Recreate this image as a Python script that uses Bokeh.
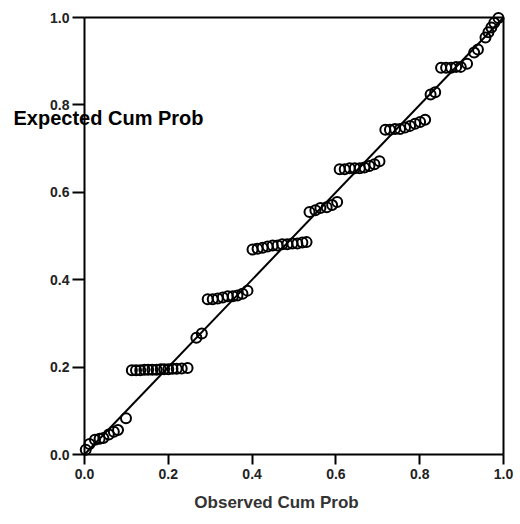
from bokeh.plotting import figure
from bokeh.models import Label, FixedTicker, Range1d, LinearAxis
from bokeh.embed import file_html
from bokeh.resources import INLINE

# Observed vs expected cumulative probabilities (P-P plot)
observed = [0.003, 0.012, 0.025, 0.036, 0.045, 0.058, 0.070, 0.080, 0.099,
            0.113, 0.123, 0.133, 0.143, 0.152, 0.162, 0.172, 0.182, 0.190, 0.200, 0.210, 0.220, 0.232, 0.246,
            0.267, 0.280,
            0.294, 0.306, 0.318, 0.330, 0.342, 0.354, 0.365, 0.377, 0.389,
            0.401, 0.413, 0.425, 0.437, 0.449, 0.461, 0.472, 0.484, 0.496, 0.508, 0.520, 0.530,
            0.537, 0.551, 0.563, 0.578, 0.591, 0.603,
            0.609, 0.621, 0.633, 0.645, 0.657, 0.668, 0.680, 0.692, 0.704,
            0.718, 0.729, 0.741, 0.753, 0.765, 0.777, 0.789, 0.801, 0.813,
            0.826, 0.837,
            0.851, 0.863, 0.875, 0.887, 0.898, 0.913,
            0.930, 0.939,
            0.957, 0.964, 0.971, 0.978, 0.988]
expected = [0.011, 0.024, 0.034, 0.036, 0.038, 0.046, 0.052, 0.056, 0.083,
            0.193, 0.193, 0.193, 0.194, 0.194, 0.194, 0.194, 0.195, 0.195, 0.195, 0.196, 0.196, 0.197, 0.198,
            0.267, 0.277,
            0.355, 0.355, 0.357, 0.359, 0.362, 0.362, 0.364, 0.368, 0.375,
            0.469, 0.471, 0.473, 0.476, 0.478, 0.478, 0.481, 0.481, 0.483, 0.483, 0.485, 0.486,
            0.555, 0.559, 0.564, 0.566, 0.571, 0.578,
            0.653, 0.653, 0.655, 0.655, 0.655, 0.657, 0.660, 0.664, 0.671,
            0.743, 0.743, 0.745, 0.745, 0.748, 0.752, 0.757, 0.761, 0.766,
            0.824, 0.829,
            0.885, 0.885, 0.885, 0.887, 0.887, 0.894,
            0.920, 0.927,
            0.954, 0.966, 0.977, 0.988, 0.999]
ref_line = [0.0, 1.0]
ticks = [0.0, 0.2, 0.4, 0.6, 0.8, 1.0]
x_title = "Observed Cum Prob"
y_title = "Expected Cum Prob"

FONT = "Liberation Sans"

# The data frame covers the whole canvas; axes are drawn at fixed locations so
# the horizontal y title and the tick labels can sit outside the [0, 1] box.
W, H = 516, 520
X0_PX, X1_PX = 84, 503     # canvas x of data 0 and 1
Y1_PX, Y0_PX = 17, 454     # canvas y of data 1 and 0
sx = X1_PX - X0_PX
sy = Y0_PX - Y1_PX

p = figure(output_backend="svg", toolbar_location=None,
           frame_width=W, frame_height=H, min_border=0,
           x_range=Range1d(-X0_PX / sx, 1 + (W - X1_PX) / sx),
           y_range=Range1d(-(H - Y0_PX) / sy, 1 + Y1_PX / sy))
p.background_fill_color = "white"
p.border_fill_color = "white"
p.outline_line_color = None
p.grid.visible = False

for ax in (p.xaxis[0], p.yaxis[0]):
    ax.ticker = FixedTicker(ticks=ticks)
    ax.fixed_location = 0
    ax.bounds = (0, 1)
    ax.axis_line_width = 2
    ax.axis_line_color = "black"
    ax.major_tick_line_width = 2
    ax.major_tick_line_color = "black"
    ax.major_tick_in = 0
    ax.minor_tick_out = 0
    ax.minor_tick_in = 0
    ax.major_label_text_font = FONT
    ax.major_label_text_font_size = "14px"
    ax.major_label_text_font_style = "bold"
    ax.major_label_text_color = "#222222"
    ax.major_label_overrides = {t: f"{t:.1f}" for t in ticks}

p.yaxis[0].major_tick_out = 12
p.yaxis[0].major_label_standoff = 3
p.xaxis[0].major_tick_out = 10
p.xaxis[0].major_label_standoff = 4

# top and right sides of the box
for side in ("above", "right"):
    box_ax = LinearAxis(ticker=FixedTicker(ticks=[]), bounds=(0, 1), fixed_location=1,
                        axis_line_width=2, axis_line_color="black",
                        major_tick_out=0, major_tick_in=0,
                        minor_tick_out=0, minor_tick_in=0,
                        major_label_text_font_size="0px")
    p.add_layout(box_ax, side)

p.line(ref_line, ref_line, line_color="black", line_width=2)
p.scatter(observed, expected, marker="circle", size=10, fill_color=None,
          line_color="black", line_width=2)

p.add_layout(Label(x=13, y=117, x_units="canvas", y_units="canvas", text=y_title,
                   text_font=FONT, text_font_size="20px", text_font_style="bold",
                   text_color="black", text_baseline="middle", text_align="left"))
p.add_layout(Label(x=276, y=502, x_units="canvas", y_units="canvas", text=x_title,
                   text_font=FONT, text_font_size="17px", text_font_style="bold",
                   text_color="#333333", text_baseline="middle", text_align="center"))

open("out.html", "w").write(file_html(p, INLINE))
